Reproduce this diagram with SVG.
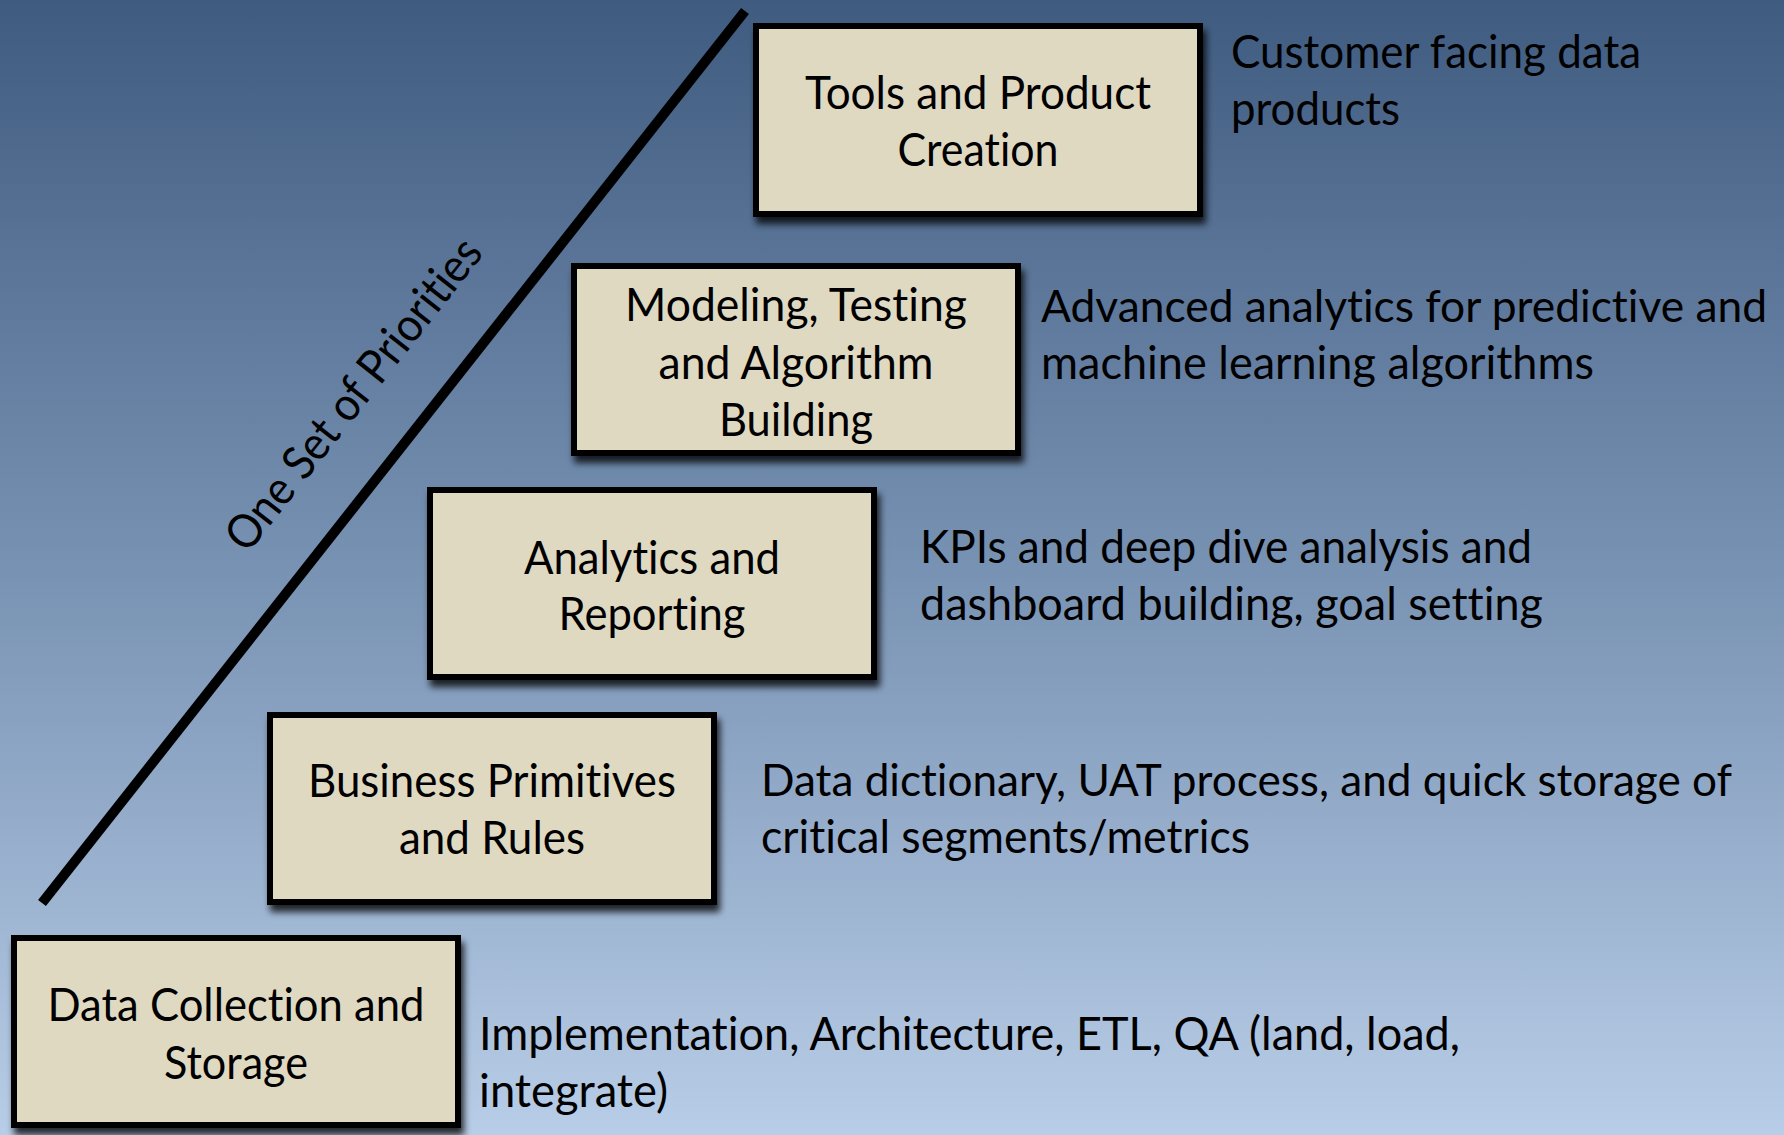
<svg xmlns="http://www.w3.org/2000/svg" width="1784" height="1135" viewBox="0 0 1784 1135">
  <defs>
    <linearGradient id="bg" x1="0" y1="0" x2="0" y2="1">
      <stop offset="0" stop-color="#3F5B7F"/>
      <stop offset="0.5" stop-color="#7892B3"/>
      <stop offset="1" stop-color="#B8CDE7"/>
    </linearGradient>
    <filter id="shadow" x="-10%" y="-10%" width="125%" height="135%">
      <feDropShadow dx="3" dy="7" stdDeviation="3.5" flood-color="#000" flood-opacity="0.8"/>
    </filter>
  </defs>
  <style>
    .box { fill: #DFD9C2; stroke: #000; stroke-width: 6; }
    .t { font-family: Lato, "Open Sans", "Liberation Sans", sans-serif; font-size: 47px; fill: #000; font-variant-ligatures: none; font-feature-settings: "liga" 0, "clig" 0; }
    .s { font-size: 45px; }
    .c { text-anchor: middle; }
  </style>
  <rect x="0" y="0" width="1784" height="1135" fill="url(#bg)"/>

  <g id="connectors">
    <line x1="42" y1="903" x2="745" y2="11" stroke="#000" stroke-width="10"/>
    <text class="t" transform="translate(366,404) rotate(-51.76)" text-anchor="middle" textLength="383" lengthAdjust="spacingAndGlyphs">One Set of Priorities</text>
  </g>

  <g id="node-tools">
    <rect class="box" x="756" y="26" width="444" height="188" filter="url(#shadow)"/>
    <text class="t c" x="978" y="109" textLength="346" lengthAdjust="spacingAndGlyphs">Tools and Product</text>
    <text class="t c" x="978" y="166" textLength="161" lengthAdjust="spacingAndGlyphs">Creation</text>
  </g>
  <g id="desc-tools">
    <text class="t" x="1231" y="68" textLength="410" lengthAdjust="spacingAndGlyphs">Customer facing data</text>
    <text class="t" x="1231" y="125" textLength="169" lengthAdjust="spacingAndGlyphs">products</text>
  </g>

  <g id="node-modeling">
    <rect class="box" x="574" y="266" width="444" height="187" filter="url(#shadow)"/>
    <text class="t c" x="796" y="321" textLength="342" lengthAdjust="spacingAndGlyphs">Modeling, Testing</text>
    <text class="t c" x="796" y="379" textLength="275" lengthAdjust="spacingAndGlyphs">and Algorithm</text>
    <text class="t c" x="796" y="436" textLength="154" lengthAdjust="spacingAndGlyphs">Building</text>
  </g>
  <g id="desc-modeling">
    <text class="t s" x="1041" y="322" textLength="726" lengthAdjust="spacingAndGlyphs">Advanced analytics for predictive and</text>
    <text class="t" x="1041" y="379" textLength="553" lengthAdjust="spacingAndGlyphs">machine learning algorithms</text>
  </g>

  <g id="node-analytics">
    <rect class="box" x="430" y="490" width="444" height="187" filter="url(#shadow)"/>
    <text class="t c" x="652" y="574" textLength="256" lengthAdjust="spacingAndGlyphs">Analytics and</text>
    <text class="t c" x="652" y="630" textLength="187" lengthAdjust="spacingAndGlyphs">Reporting</text>
  </g>
  <g id="desc-analytics">
    <text class="t" x="920" y="563" textLength="612" lengthAdjust="spacingAndGlyphs">KPIs and deep dive analysis and</text>
    <text class="t" x="920" y="620" textLength="623" lengthAdjust="spacingAndGlyphs">dashboard building, goal setting</text>
  </g>

  <g id="node-business">
    <rect class="box" x="270" y="715" width="444" height="187" filter="url(#shadow)"/>
    <text class="t c" x="492" y="797" textLength="368" lengthAdjust="spacingAndGlyphs">Business Primitives</text>
    <text class="t c" x="492" y="854" textLength="186" lengthAdjust="spacingAndGlyphs">and Rules</text>
  </g>
  <g id="desc-business">
    <text class="t s" x="761" y="796" textLength="971" lengthAdjust="spacingAndGlyphs">Data dictionary, UAT process, and quick storage of</text>
    <text class="t" x="761" y="853" textLength="489" lengthAdjust="spacingAndGlyphs">critical segments/metrics</text>
  </g>

  <g id="node-data">
    <rect class="box" x="14" y="938" width="444" height="187" filter="url(#shadow)"/>
    <text class="t c" x="236" y="1021" textLength="377" lengthAdjust="spacingAndGlyphs">Data Collection and</text>
    <text class="t c" x="236" y="1079" textLength="144" lengthAdjust="spacingAndGlyphs">Storage</text>
  </g>
  <g id="desc-data">
    <text class="t" x="479" y="1050" textLength="981" lengthAdjust="spacingAndGlyphs">Implementation, Architecture, ETL, QA (land, load,</text>
    <text class="t" x="479" y="1107" textLength="189" lengthAdjust="spacingAndGlyphs">integrate)</text>
  </g>
</svg>
